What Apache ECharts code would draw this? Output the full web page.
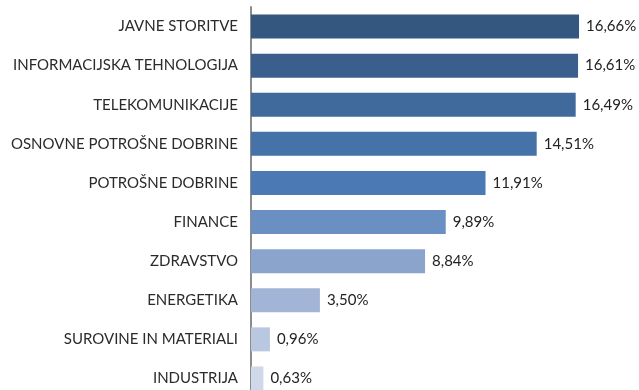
<!DOCTYPE html>
<html>
<head>
<meta charset="utf-8">
<script src="https://cdn.jsdelivr.net/npm/echarts@6/dist/echarts.min.js"></script>
<style>
  html, body { margin: 0; padding: 0; background: #fff; }
  #chart { width: 639px; height: 390px; }
</style>
</head>
<body>
<div id="chart"></div>
<script>
// Sector weights (%), listed top to bottom
const sectors = [
  'JAVNE STORITVE',
  'INFORMACIJSKA TEHNOLOGIJA',
  'TELEKOMUNIKACIJE',
  'OSNOVNE POTROŠNE DOBRINE',
  'POTROŠNE DOBRINE',
  'FINANCE',
  'ZDRAVSTVO',
  'ENERGETIKA',
  'SUROVINE IN MATERIALI',
  'INDUSTRIJA'
];
const weights = [16.66, 16.61, 16.49, 14.51, 11.91, 9.89, 8.84, 3.50, 0.96, 0.63];
const barColors = [
  '#34577f', '#3b5f8c', '#416a9c', '#4573a8', '#4a79b4',
  '#6a8fc2', '#8aa4cc', '#a3b5d6', '#bac7e0', '#cfd9ea'
];

const chart = echarts.init(document.getElementById('chart'), null, { renderer: 'canvas' });

const pxPerUnit = 19.69;
const xMax = 20;

chart.setOption({
  animation: false,
  backgroundColor: '#ffffff',
  grid: {
    left: 251,
    top: 7,
    width: pxPerUnit * xMax,
    height: 391,
    containLabel: false,
    outerBoundsMode: 'none'
  },
  xAxis: {
    type: 'value',
    min: 0,
    max: xMax,
    show: false
  },
  yAxis: {
    type: 'category',
    inverse: true,
    data: sectors,
    axisLine: { show: true, lineStyle: { color: '#8c8c8c', width: 2 } },
    axisTick: { show: false },
    axisLabel: {
      margin: 13,
      color: '#2b2b2b',
      fontFamily: 'Lato',
      fontSize: 15
    }
  },
  series: [{
    type: 'bar',
    barWidth: 24,
    data: weights.map((v, i) => ({ value: v, itemStyle: { color: barColors[i] } })),
    label: {
      show: true,
      position: 'right',
      distance: 7,
      color: '#222',
      fontFamily: 'Lato',
      fontSize: 15,
      formatter: p => p.value.toFixed(2).replace('.', ',') + '%'
    }
  }]
});
</script>
</body>
</html>
